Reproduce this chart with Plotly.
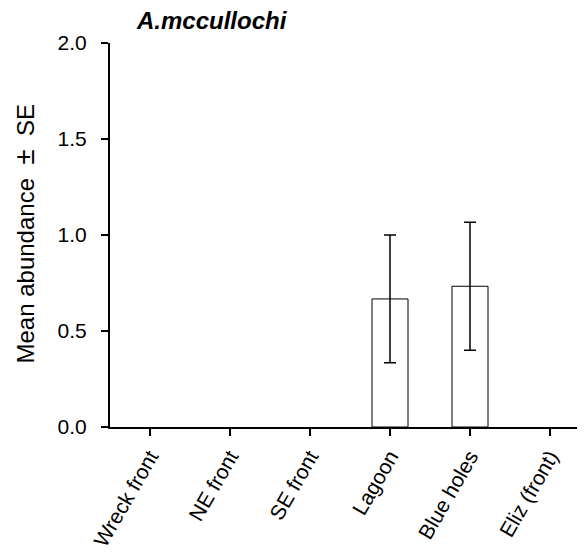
import plotly.graph_objects as go

sites = ["Wreck front", "NE front", "SE front", "Lagoon", "Blue holes", "Eliz (front)"]
mean_abundance = [0, 0, 0, 0.667, 0.733, 0]
se = [None, None, None, 0.333, 0.333, None]
y_ticks = [0.0, 0.5, 1.0, 1.5, 2.0]
y_tick_labels = ["0.0", "0.5", "1.0", "1.5", "2.0"]

FONT = "Liberation Sans, Arial, sans-serif"
OFF = 8  # default page body margin
W, H = 585 - OFF, 556 - OFF
ML, MR, MT = 110 - OFF, 0, 43 - OFF
ph = 384
MB = H - MT - ph
pw = W - ML - MR

xs = list(range(len(sites)))
outline_w = [1 if v > 0 else 0 for v in mean_abundance]
err_idx = [i for i, s in enumerate(se) if s is not None]

fig = go.Figure()
fig.add_trace(go.Bar(
    x=xs,
    y=mean_abundance,
    width=0.45,
    marker=dict(color="white", line=dict(color="black", width=outline_w)),
    showlegend=False,
    hoverinfo="skip",
))
fig.add_trace(go.Scatter(
    x=[xs[i] for i in err_idx],
    y=[mean_abundance[i] for i in err_idx],
    mode="markers",
    marker=dict(size=1, color="rgba(0,0,0,0)"),
    error_y=dict(type="data", array=[se[i] for i in err_idx], visible=True,
                 color="black", thickness=1.5, width=6),
    showlegend=False,
))

fig.update_layout(
    width=W, height=H,
    margin=dict(l=ML, r=MR, t=MT, b=MB, autoexpand=False),
    plot_bgcolor="white", paper_bgcolor="white",
    font=dict(family=FONT, color="black", size=21),
    xaxis=dict(
        range=[-0.5, 5.4375],
        tickmode="array", tickvals=xs, ticktext=sites,
        tickangle=-60,
        showline=True, linecolor="black", linewidth=2,
        ticks="outside", ticklen=7, tickwidth=2, tickcolor="black",
        showgrid=False, zeroline=False,
        tickfont=dict(size=21, family=FONT),
    ),
    yaxis=dict(
        range=[0, 2.0],
        tickmode="array", tickvals=y_ticks, ticktext=y_tick_labels,
        showline=True, linecolor="black", linewidth=2,
        ticks="outside", ticklen=7, tickwidth=2, tickcolor="black",
        showgrid=False, zeroline=False,
        ticklabelstandoff=10,
        tickfont=dict(size=21, family=FONT),
    ),
)

fig.add_annotation(
    text="Mean abundance\u00a0\u00a0<span style='font-size:28px'>±</span>\u00a0\u00a0SE",
    xref="paper", yref="paper",
    x=(24 - OFF - ML) / pw, y=(427 - 233.5) / ph,
    xanchor="center", yanchor="middle",
    textangle=-90, showarrow=False,
    font=dict(size=24, family=FONT, color="black"),
)
fig.add_annotation(
    text="<b><i>A.mccullochi</i></b>",
    xref="paper", yref="paper",
    x=(212 - OFF - ML) / pw, y=1 + (MT - (20 - OFF)) / ph,
    xanchor="center", yanchor="middle",
    showarrow=False, borderpad=0,
    font=dict(size=24, family=FONT, color="black"),
)

fig.write_html("out.html")
